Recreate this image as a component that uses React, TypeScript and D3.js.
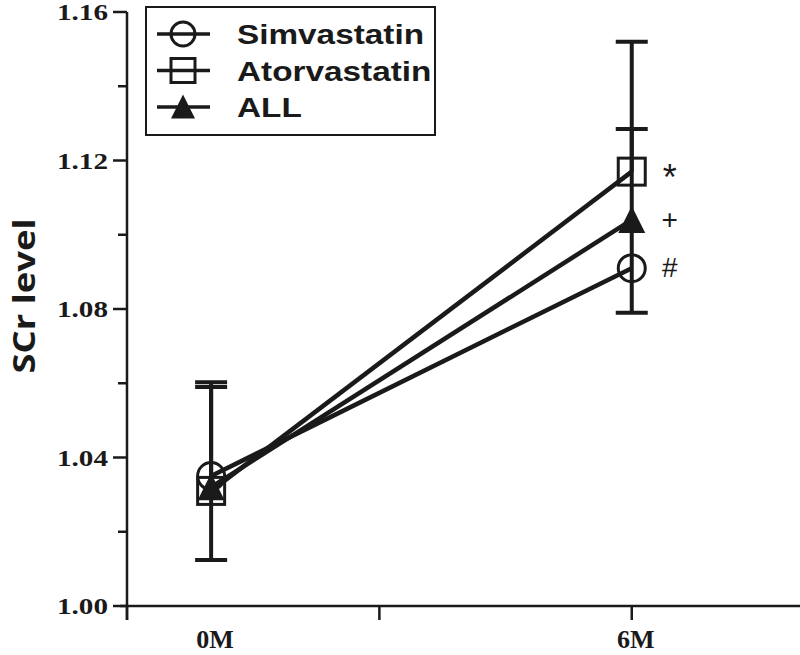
import React, { useEffect, useRef } from "react";
import * as d3 from "d3";

// categories (x positions as index units)
const timepoints = ["0M", "6M"];
const timeIndex = [0, 1];
const xTickValues = [-0.2, 0.4, 1.0];

const seriesNames = ["Simvastatin", "Atorvastatin", "ALL"];
const symbols = ["circle", "square", "triangle"];

// mean SCr values
const simvastatin = [1.035, 1.091];
const atorvastatin = [1.031, 1.117];
const allPatients = [1.032, 1.104];

// error bar ends as drawn (null = not drawn)
const simUpper = [1.059, null];
const simLower = [1.0124, null];
const atorUpper = [1.0603, 1.152];
const atorLower = [null, null];
const allUpper = [null, 1.1285];
const allLower = [null, 1.079];

// significance marks at 6M
const marks = ["#", "*", "+"];

const yMajorTicks = [1.0, 1.04, 1.08, 1.12, 1.16];
const yMinorTicks = [1.02, 1.06, 1.1, 1.14];

const App: React.FC = () => {
  const svgRef = useRef<SVGSVGElement>(null);

  useEffect(() => {
    if (!svgRef.current) return;
    const width = 800;
    const height = 655;

    const xScale = d3.scaleLinear().domain([-0.2, 1.4]).range([127, 800]);
    const yScale = d3.scaleLinear().domain([1.0, 1.16]).range([606, 12]);

    const svg = d3.select(svgRef.current).attr("width", width).attr("height", height);
    svg.selectAll("*").remove();

    const ink = "#1a1a1a";
    const serif = "'Liberation Serif', 'Times New Roman', serif";
    const sans = "'Liberation Sans', Arial, sans-serif";

    // y axis
    const yAxis = svg.append("g").attr("stroke", ink).attr("stroke-width", 2.5);
    yAxis.append("line").attr("x1", 127).attr("x2", 127).attr("y1", yScale(1.16)).attr("y2", 620);
    yMajorTicks.forEach((t) => {
      yAxis.append("line").attr("x1", 113).attr("x2", 127).attr("y1", yScale(t)).attr("y2", yScale(t));
    });
    yMinorTicks.forEach((t) => {
      yAxis.append("line").attr("x1", 118).attr("x2", 127).attr("y1", yScale(t)).attr("y2", yScale(t));
    });
    yMajorTicks.forEach((t) => {
      svg
        .append("text")
        .attr("x", 108)
        .attr("y", yScale(t) + 8)
        .attr("text-anchor", "end")
        .attr("font-family", serif)
        .attr("font-weight", "bold")
        .attr("font-size", 23)
        .attr("textLength", 51)
        .attr("lengthAdjust", "spacingAndGlyphs")
        .attr("fill", ink)
        .text(d3.format(".2f")(t));
    });

    // x axis
    const xAxis = svg.append("g").attr("stroke", ink).attr("stroke-width", 2.5);
    xAxis.append("line").attr("x1", 120).attr("x2", 800).attr("y1", 606).attr("y2", 606);
    xTickValues.forEach((t) => {
      xAxis.append("line").attr("x1", xScale(t)).attr("x2", xScale(t)).attr("y1", 606).attr("y2", 620);
    });
    timepoints.forEach((lbl, i) => {
      svg
        .append("text")
        .attr("x", xScale(timeIndex[i]) + 4)
        .attr("y", 648)
        .attr("text-anchor", "middle")
        .attr("font-family", serif)
        .attr("font-weight", "bold")
        .attr("font-size", 26)
        .attr("fill", ink)
        .text(lbl);
    });

    // y title
    svg
      .append("text")
      .attr("transform", `translate(35, 296) rotate(-90)`)
      .attr("text-anchor", "middle")
      .attr("font-family", "'Open Sans', sans-serif")
      .attr("font-weight", "bold")
      .attr("font-size", 31)
      .attr("textLength", 155)
      .attr("lengthAdjust", "spacingAndGlyphs")
      .attr("fill", ink)
      .text("SCr level");

    const values = [simvastatin, atorvastatin, allPatients];
    const uppers = [simUpper, atorUpper, allUpper];
    const lowers = [simLower, atorLower, allLower];

    // error bars
    const eb = svg.append("g").attr("stroke", ink).attr("stroke-width", 4);
    values.forEach((vals, s) => {
      vals.forEach((v, i) => {
        const x = xScale(timeIndex[i]);
        [uppers[s][i], lowers[s][i]].forEach((end) => {
          if (end == null) return;
          eb.append("line").attr("x1", x).attr("x2", x).attr("y1", yScale(v)).attr("y2", yScale(end));
          eb.append("line").attr("x1", x - 16).attr("x2", x + 16).attr("y1", yScale(end)).attr("y2", yScale(end));
        });
      });
    });

    // lines
    const line = d3
      .line<number>()
      .x((_, i) => xScale(timeIndex[i]))
      .y((d) => yScale(d));
    values.forEach((vals) => {
      svg.append("path").datum(vals).attr("fill", "none").attr("stroke", ink).attr("stroke-width", 4.5).attr("d", line);
    });

    const drawSymbol = (
      g: d3.Selection<SVGGElement, unknown, null, undefined>,
      kind: string,
      x: number,
      y: number,
      size: number
    ) => {
      if (kind === "circle") {
        g.append("circle").attr("cx", x).attr("cy", y).attr("r", size / 2 - 1.5)
          .attr("fill", "none").attr("stroke", ink).attr("stroke-width", 3);
      } else if (kind === "square") {
        const s = size - 3;
        g.append("rect").attr("x", x - s / 2).attr("y", y - s / 2).attr("width", s).attr("height", s)
          .attr("fill", "none").attr("stroke", ink).attr("stroke-width", 3);
      } else {
        const w = size - 3;
        const h = size - 6;
        g.append("path")
          .attr("d", `M${x},${y - h / 2 - 2}L${x + w / 2},${y + h / 2 + 1}L${x - w / 2},${y + h / 2 + 1}Z`)
          .attr("fill", ink);
      }
    };

    // markers
    const markerG = svg.append("g");
    values.forEach((vals, s) => {
      vals.forEach((v, i) => drawSymbol(markerG, symbols[s], xScale(timeIndex[i]), yScale(v), 30));
    });

    // significance marks
    marks.forEach((m, s) => {
      svg
        .append("text")
        .attr("x", xScale(1) + 38)
        .attr("y", yScale(values[s][1]) + (m === "*" ? 18 : 9))
        .attr("text-anchor", "middle")
        .attr("font-family", sans)
        .attr("font-size", m === "*" ? 36 : 28)
        .attr("fill", ink)
        .text(m);
    });

    // legend
    const lg = svg.append("g");
    lg.append("rect").attr("x", 146).attr("y", 7).attr("width", 289).attr("height", 128)
      .attr("fill", "white").attr("stroke", ink).attr("stroke-width", 2);
    seriesNames.forEach((name, i) => {
      const cy = 34 + i * 36.5;
      lg.append("line").attr("x1", 157).attr("x2", 210).attr("y1", cy).attr("y2", cy)
        .attr("stroke", ink).attr("stroke-width", 3.5);
      drawSymbol(lg, symbols[i], 183, cy, 27);
      lg.append("text")
        .attr("transform", `translate(237, ${cy + 10}) scale(1.19, 1)`)
        .attr("font-family", sans)
        .attr("font-weight", "bold")
        .attr("font-size", 28)
        .attr("fill", ink)
        .text(name);
    });
  }, []);

  return (
    <div style={{ position: "absolute", left: 0, top: 0, width: 800, height: 655, background: "white" }}>
      <svg ref={svgRef} style={{ display: "block" }}></svg>
    </div>
  );
};

export default App;
